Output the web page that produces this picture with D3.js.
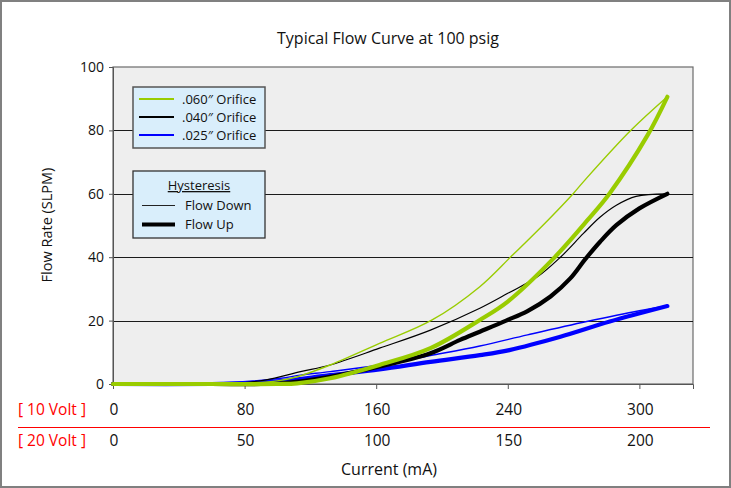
<!DOCTYPE html>
<html><head><meta charset="utf-8">
<script src="https://cdn.jsdelivr.net/npm/d3@7"></script>
<style>
html,body{margin:0;padding:0;background:#fff;}
svg text{font-family:"Open Sans","Noto Sans",sans-serif;}
</style></head>
<body><svg id="c" width="731" height="488"></svg>
<script>
// ---- data ----
const title = "Typical Flow Curve at 100 psig";
const yTicks = [0, 20, 40, 60, 80, 100];
const xTickPos = [0, 80, 160, 240, 320];
const xLabels10V = ["0", "80", "160", "240", "300"];
const xLabels20V = ["0", "50", "100", "150", "200"];
const orificeNames = [".060\u2033 Orifice", ".040\u2033 Orifice", ".025\u2033 Orifice"];
const orificeColors = ["#99cc00", "#000000", "#0000ff"];

// .060" orifice
const x060Down = [0, 60, 79, 100, 112, 132, 162, 194, 223, 242, 265, 280, 287, 315, 337];
const y060Down = [0, 0, 0.2, 1.0, 2.3, 6.0, 12.8, 20.2, 30.7, 40.2, 52.0, 60.2, 64.4, 80.1, 90.6];
const x060Up = [0, 60, 100, 112, 132, 162, 193, 223, 240, 268, 289, 302, 325, 337];
const y060Up = [0, 0, 0, 0.2, 1.8, 6.0, 11.3, 20.2, 26.0, 39.7, 52.0, 60.2, 78.5, 90.6];
// .040" orifice
const x040Down = [0, 60, 79, 93, 114, 132, 162, 193, 223, 240, 258, 272, 286, 296, 306, 318, 337];
const y040Down = [0, 0, 0.4, 1.3, 3.9, 6.0, 11.3, 17.0, 23.9, 28.6, 33.8, 40.0, 47.5, 52.6, 56.4, 59.2, 60];
const x040Up = [0, 60, 90, 102, 132, 162, 193, 211, 223, 239, 252, 266, 278, 287, 296, 306, 320, 337];
const y040Up = [0, 0, 0, 0.2, 2.3, 5.5, 9.7, 13.9, 16.5, 20.0, 23.0, 27.6, 33.3, 39.3, 44.8, 50.1, 55.4, 60];
// .025" orifice
const x025Down = [0, 53, 79, 102, 114, 132, 162, 193, 223, 252, 288, 320, 337];
const y025Down = [0, 0.15, 0.7, 1.8, 2.8, 3.9, 6.0, 9.0, 12.0, 15.5, 19.7, 23.1, 24.6];
const x025Up = [0, 60, 79, 102, 132, 162, 193, 223, 241, 272, 302, 337];
const y025Up = [0, 0, 0.2, 0.9, 2.8, 4.6, 7.0, 9.1, 10.7, 14.9, 19.7, 24.6];

// ---- drawing ----
const svg = d3.select("#c");
const L = 113, R = 693, T = 67, B = 384;
const x = d3.scaleLinear().domain([0, 352.6]).range([L, R]);
const y = d3.scaleLinear().domain([0, 100]).range([B, T]);

// outer border
svg.append("rect").attr("x", 1).attr("y", 1).attr("width", 729).attr("height", 486)
  .attr("fill", "#fff").attr("stroke", "#808080").attr("stroke-width", 2);

// plot background
svg.append("rect").attr("x", L).attr("y", T).attr("width", R - L).attr("height", B - T)
  .attr("fill", "#eeeeee").attr("stroke", "#6b6b6b").attr("stroke-width", 1.2);

// gridlines
svg.append("g").selectAll("line").data(yTicks.filter(d => d > 0 && d < 100)).join("line")
  .attr("x1", L).attr("x2", R).attr("y1", d => Math.round(y(d)) + 0.5).attr("y2", d => Math.round(y(d)) + 0.5)
  .attr("stroke", "#1a1a1a").attr("stroke-width", 1);

// y axis
const yAxis = svg.append("g").attr("transform", `translate(${L},0)`)
  .call(d3.axisLeft(y).tickValues(yTicks).tickSize(4).tickPadding(5).tickFormat(d3.format("d")));
yAxis.select(".domain").attr("stroke", "#555");
yAxis.selectAll(".tick line").attr("stroke", "#555");
yAxis.selectAll("text").attr("font-size", 14).attr("fill", "#111");

// x axis ticks (marks only)
const xAxis = svg.append("g").attr("transform", `translate(0,${B})`)
  .call(d3.axisBottom(x).tickValues(xTickPos).tickSize(5).tickFormat(""));
xAxis.select(".domain").attr("stroke", "#555");
xAxis.selectAll(".tick line").attr("stroke", "#555");

// two rows of x labels
const rowY1 = 415, rowY2 = 446;
svg.append("g").selectAll("text").data(xTickPos).join("text")
  .attr("x", d => x(d) + 1).attr("y", rowY1).attr("text-anchor", "middle")
  .attr("font-size", 15.5).attr("fill", "#111").text((d, i) => xLabels10V[i]);
svg.append("g").selectAll("text").data(xTickPos).join("text")
  .attr("x", d => x(d) + 1).attr("y", rowY2).attr("text-anchor", "middle")
  .attr("font-size", 15.5).attr("fill", "#111").text((d, i) => xLabels20V[i]);
svg.append("text").attr("x", 18).attr("y", rowY1).attr("font-size", 15.5).attr("fill", "#ff0000").text("[ 10 Volt ]");
svg.append("text").attr("x", 18).attr("y", rowY2).attr("font-size", 15.5).attr("fill", "#ff0000").text("[ 20 Volt ]");
svg.append("line").attr("x1", 18).attr("x2", 710).attr("y1", 427.5).attr("y2", 427.5)
  .attr("stroke", "#ff0000").attr("stroke-width", 1);

// titles
svg.append("text").attr("x", 388).attr("y", 44).attr("text-anchor", "middle")
  .attr("font-size", 16).attr("fill", "#111").text(title);
svg.append("text").attr("x", 389).attr("y", 475).attr("text-anchor", "middle")
  .attr("font-size", 16).attr("fill", "#111").text("Current (mA)");
svg.append("text").attr("transform", "translate(52,225) rotate(-90)").attr("text-anchor", "middle")
  .attr("font-size", 14.5).attr("fill", "#111").text("Flow Rate (SLPM)");

// curves
const line = d3.line().x(d => x(d[0])).y(d => y(d[1])).curve(d3.curveCatmullRom.alpha(0.5));
const zip = (xs, ys) => xs.map((v, i) => [v, ys[i]]);
const series = [
  { xs: x025Down, ys: y025Down, c: orificeColors[2], w: 1.4 },
  { xs: x025Up, ys: y025Up, c: orificeColors[2], w: 4.2 },
  { xs: x040Down, ys: y040Down, c: orificeColors[1], w: 1.2 },
  { xs: x040Up, ys: y040Up, c: orificeColors[1], w: 4.2 },
  { xs: x060Down, ys: y060Down, c: orificeColors[0], w: 1.4 },
  { xs: x060Up, ys: y060Up, c: orificeColors[0], w: 4.2 }
];
svg.append("g").selectAll("path").data(series).join("path")
  .attr("d", s => line(zip(s.xs, s.ys)))
  .attr("fill", "none").attr("stroke", s => s.c).attr("stroke-width", s => s.w)
  .attr("stroke-linecap", "round").attr("stroke-linejoin", "round");

// legend 1
const lg1 = svg.append("g");
lg1.append("rect").attr("x", 133).attr("y", 87).attr("width", 132).attr("height", 61)
  .attr("fill", "#d9eefb").attr("stroke", "#555").attr("stroke-width", 1.5);
orificeNames.forEach((n, i) => {
  const yy = 99 + i * 18;
  lg1.append("line").attr("x1", 139).attr("x2", 174).attr("y1", yy).attr("y2", yy)
    .attr("stroke", orificeColors[i]).attr("stroke-width", 2);
  lg1.append("text").attr("x", 182).attr("y", yy + 5).attr("font-size", 13).attr("fill", "#111").text(n);
});

// legend 2
const lg2 = svg.append("g");
lg2.append("rect").attr("x", 133).attr("y", 171).attr("width", 132).attr("height", 67)
  .attr("fill", "#d9eefb").attr("stroke", "#333").attr("stroke-width", 1.3);
lg2.append("text").attr("x", 199).attr("y", 190).attr("text-anchor", "middle")
  .attr("font-size", 13).attr("fill", "#111").attr("text-decoration", "underline").text("Hysteresis");
lg2.append("line").attr("x1", 142).attr("x2", 175).attr("y1", 205.5).attr("y2", 205.5)
  .attr("stroke", "#222").attr("stroke-width", 1);
lg2.append("text").attr("x", 185).attr("y", 210).attr("font-size", 13).attr("fill", "#111").text("Flow Down");
lg2.append("line").attr("x1", 142).attr("x2", 175).attr("y1", 224.5).attr("y2", 224.5)
  .attr("stroke", "#000").attr("stroke-width", 4);
lg2.append("text").attr("x", 185).attr("y", 229).attr("font-size", 13).attr("fill", "#111").text("Flow Up");
</script></body></html>
